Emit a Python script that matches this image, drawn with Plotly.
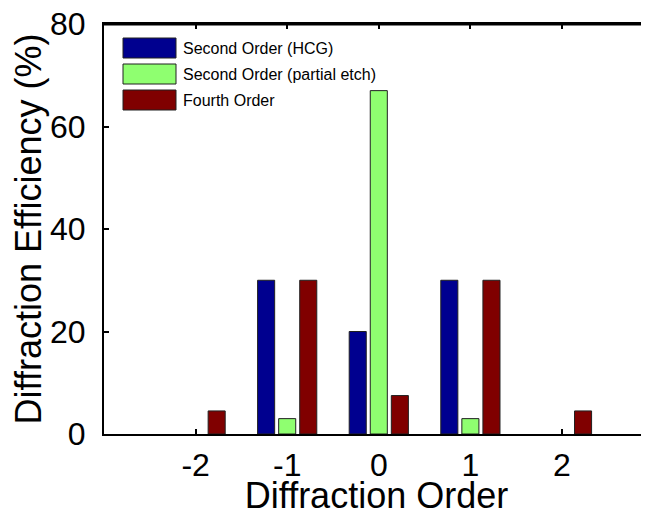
import plotly.graph_objects as go

orders = [-2, -1, 0, 1, 2]
tick_labels = ["-2", "-1", "0", "1", "2"]
series_names = ["Second Order (HCG)", "Second Order (partial etch)", "Fourth Order"]
hcg = [0, 30, 20, 30, 0]
partial_etch = [0, 3, 67, 3, 0]
fourth = [4.5, 30, 7.5, 30, 4.5]
colors = ["#00008F", "#8FFF70", "#800000"]

# the page body has an 8px margin; the figure is sized so the plot lands where the reference shows it
BODY = 8
W, H = 649 - BODY, 516 - BODY
ML, MR, MT, MB = 104 - BODY, 0, 24 - BODY, 82
PW, PH = W - ML - MR, H - MT - MB
FONT = "Liberation Sans, Arial, sans-serif"
X_RANGE = [-3, 2.95]
Y_RANGE = [0, 80]

fig = go.Figure()
for name, vals, col in zip(series_names, [hcg, partial_etch, fourth], colors):
    fig.add_trace(go.Bar(
        x=orders, y=vals, name=name,
        marker=dict(color=col, line=dict(color="#202020", width=[1 if v else 0 for v in vals])),
        showlegend=False))

fig.update_layout(
    width=W, height=H,
    margin=dict(l=ML, r=MR, t=MT, b=MB, pad=0, autoexpand=False),
    paper_bgcolor="white", plot_bgcolor="white",
    barmode="group", bargap=0.31, bargroupgap=0.19,
    font=dict(family=FONT, color="black"),
)
fig.update_xaxes(
    range=X_RANGE, tickvals=orders, ticktext=tick_labels, automargin=False,
    ticks="inside", ticklen=5, tickwidth=1.5, tickcolor="black",
    showline=True, linewidth=2, linecolor="black", mirror="ticks",
    showgrid=False, zeroline=False, layer="below traces",
    tickfont=dict(size=32, family=FONT), ticklabelstandoff=2,
    title=dict(text="Diffraction Order", font=dict(size=36, family=FONT), standoff=11),
)
fig.update_yaxes(
    range=Y_RANGE, tickvals=[0, 20, 40, 60, 80], automargin=False,
    ticks="inside", ticklen=5, tickwidth=1.5, tickcolor="black",
    showline=True, linewidth=2, linecolor="black", mirror=False,
    showgrid=False, zeroline=False, layer="below traces",
    tickfont=dict(size=32, family=FONT), ticklabelstandoff=10, ticklabeloverflow="allow",
    title=dict(text="Diffraction Efficiency (%)", font=dict(size=36, family=FONT), standoff=5),
)

# top box edge of the axes (MATLAB box on)
fig.add_shape(type="line", xref="paper", yref="paper", x0=0, x1=1, y0=1, y1=1,
              line=dict(color="black", width=2), layer="above")
fig.add_shape(type="line", xref="paper", yref="y", x0=0, x1=1, y0=Y_RANGE[1], y1=Y_RANGE[1],
              line=dict(color="black", width=3), layer="above")

# manual legend (MATLAB style), positions given in page pixels
def px2x(px):
    return (px - BODY - ML) / PW

def py2y(py):
    return (MT + PH - (py - BODY)) / PH

leg_x0, leg_x1 = 123, 176
row_top0, row_h, row_step = 38, 20, 26
for i, (name, col) in enumerate(zip(series_names, colors)):
    top = row_top0 + i * row_step
    fig.add_shape(type="rect", xref="paper", yref="paper",
                  x0=px2x(leg_x0), x1=px2x(leg_x1), y0=py2y(top + row_h), y1=py2y(top),
                  fillcolor=col, line=dict(color="#202020", width=1))
    fig.add_annotation(xref="paper", yref="paper", x=px2x(181), y=py2y(top + row_h / 2),
                       text=name, showarrow=False, xanchor="left", yanchor="middle",
                       font=dict(size=16, family=FONT, color="black"))

fig.write_html("out.html")
